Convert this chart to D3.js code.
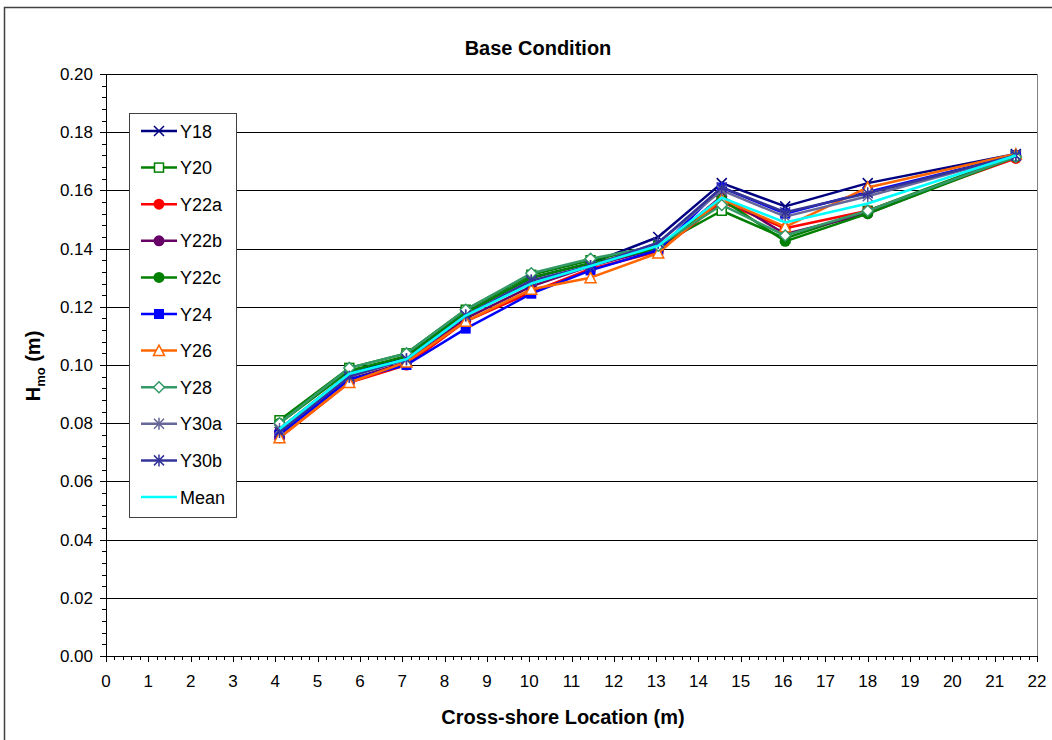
<!DOCTYPE html>
<html><head><meta charset="utf-8">
<script src="https://cdn.jsdelivr.net/npm/d3@7"></script>
<style>body{margin:0;background:#fff;}svg{display:block;font-family:Arial,"Liberation Sans",sans-serif;}</style>
</head><body>
<svg id="c" width="1052" height="740"></svg>
<script>
const xLocations = [4.1, 5.75, 7.1, 8.5, 10.05, 11.45, 13.05, 14.55, 16.05, 18.0, 21.5];
const seriesNames = ["Y18","Y20","Y22a","Y22b","Y22c","Y24","Y26","Y28","Y30a","Y30b","Mean"];
const Y18  = [0.078,0.097,0.103,0.118,0.130,0.135,0.144,0.1625,0.1545,0.1625,0.1725];
const Y20  = [0.081,0.099,0.104,0.119,0.131,0.136,0.141,0.153,0.1435,0.153,0.172];
const Y22a = [0.075,0.094,0.100,0.115,0.125,0.133,0.139,0.156,0.147,0.153,0.171];
const Y22b = [0.077,0.095,0.101,0.116,0.127,0.134,0.140,0.158,0.145,0.152,0.172];
const Y22c = [0.080,0.098,0.103,0.118,0.130,0.135,0.140,0.157,0.1425,0.152,0.1715];
const Y24  = [0.076,0.095,0.100,0.1125,0.1245,0.1325,0.1395,0.161,0.152,0.1595,0.172];
const Y26  = [0.075,0.094,0.101,0.115,0.126,0.130,0.1385,0.157,0.1475,0.161,0.1725];
const Y28  = [0.080,0.099,0.104,0.119,0.1315,0.1365,0.141,0.155,0.1445,0.153,0.1715];
const Y30a = [0.078,0.096,0.102,0.117,0.129,0.134,0.142,0.160,0.151,0.158,0.172];
const Y30b = [0.077,0.096,0.102,0.117,0.129,0.134,0.142,0.161,0.1525,0.159,0.172];
const Mean = [0.078,0.097,0.102,0.117,0.128,0.134,0.141,0.1575,0.149,0.1555,0.172];
const seriesValues = [Y18,Y20,Y22a,Y22b,Y22c,Y24,Y26,Y28,Y30a,Y30b,Mean];
const xTickValues = d3.range(0, 23, 1);
const yTickValues = d3.range(0, 0.2001, 0.02);

const colors = ["#000080","#008000","#FF0000","#660066","#008000","#0000FF","#FF6600","#339966","#666699","#333399","#00FFFF"];
const markers = ["x","squareOpen","circle","circle","circle","square","triOpen","diamondOpen","star","star","none"];

const svg = d3.select("#c");
const L = 106, R = 1037, T = 74, B = 656;
const x = d3.scaleLinear().domain([0,22]).range([L,R]);
const y = d3.scaleLinear().domain([0,0.2]).range([B,T]);

// chart area border
svg.append("rect").attr("x",4.5).attr("y",7.5).attr("width",1100).attr("height",800)
  .attr("fill","none").attr("stroke","#404040").attr("stroke-width",1.5);

// gridlines
svg.append("g").selectAll("line").data(yTickValues.slice(1)).join("line")
  .attr("x1",L).attr("x2",R).attr("y1",d=>Math.round(y(d))+0.5).attr("y2",d=>Math.round(y(d))+0.5)
  .attr("stroke","#000").attr("stroke-width",1);
// right border
svg.append("line").attr("x1",R+0.5).attr("x2",R+0.5).attr("y1",T).attr("y2",B).attr("stroke","#808080");

// axes
const yMinor = d3.range(0, 0.2001, 0.004);
const ga = svg.append("g").attr("stroke","#000");
ga.selectAll(".ym").data(yMinor).join("line")
  .attr("x1",L-4).attr("x2",L).attr("y1",d=>Math.round(y(d))+0.5).attr("y2",d=>Math.round(y(d))+0.5);
ga.selectAll(".yM").data(yTickValues).join("line")
  .attr("x1",L-6).attr("x2",L).attr("y1",d=>Math.round(y(d))+0.5).attr("y2",d=>Math.round(y(d))+0.5);
const xMinor = d3.range(0, 22.001, 0.2);
ga.selectAll(".xm").data(xMinor).join("line")
  .attr("y1",B).attr("y2",B+4).attr("x1",d=>Math.round(x(d))+0.5).attr("x2",d=>Math.round(x(d))+0.5);
ga.selectAll(".xM").data(xTickValues).join("line")
  .attr("y1",B).attr("y2",B+6).attr("x1",d=>Math.round(x(d))+0.5).attr("x2",d=>Math.round(x(d))+0.5);
ga.append("line").attr("x1",L+0.5).attr("x2",L+0.5).attr("y1",T).attr("y2",B);
ga.append("line").attr("x1",L).attr("x2",R).attr("y1",B+0.5).attr("y2",B+0.5);

svg.append("g").selectAll("text").data(yTickValues).join("text")
  .attr("x",L-13).attr("y",d=>y(d)+6).attr("text-anchor","end").attr("font-size",17)
  .text(d=>d3.format(".2f")(d));
svg.append("g").selectAll("text").data(xTickValues).join("text")
  .attr("x",d=>x(d)).attr("y",B+31).attr("text-anchor","middle").attr("font-size",17)
  .text(d=>d);

// titles
svg.append("text").attr("x",538).attr("y",55).attr("text-anchor","middle")
  .attr("font-size",20).attr("font-weight","bold").text("Base Condition");
svg.append("text").attr("x",563).attr("y",724).attr("text-anchor","middle")
  .attr("font-size",20).attr("font-weight","bold").text("Cross-shore Location (m)");
const yl = svg.append("text").attr("transform","translate(40,366) rotate(-90)").attr("text-anchor","middle")
  .attr("font-size",20).attr("font-weight","bold");
yl.append("tspan").text("H");
yl.append("tspan").attr("font-size",13).attr("dy",5).text("mo");
yl.append("tspan").attr("dy",-5).text(" (m)");

function drawMarker(g, type, cx, cy, color){
  const s = 5;
  if(type==="x"){
    g.append("path").attr("d",`M${cx-s},${cy-s}L${cx+s},${cy+s}M${cx-s},${cy+s}L${cx+s},${cy-s}`)
      .attr("stroke",color).attr("stroke-width",1.5).attr("fill","none");
  } else if(type==="squareOpen"){
    g.append("rect").attr("x",cx-4.5).attr("y",cy-4.5).attr("width",9).attr("height",9)
      .attr("fill","#fff").attr("stroke",color).attr("stroke-width",1.5);
  } else if(type==="square"){
    g.append("rect").attr("x",cx-5).attr("y",cy-5).attr("width",10).attr("height",10).attr("fill",color);
  } else if(type==="circle"){
    g.append("circle").attr("cx",cx).attr("cy",cy).attr("r",5.5).attr("fill",color);
  } else if(type==="triOpen"){
    g.append("path").attr("d",`M${cx},${cy-5.5}L${cx+5.5},${cy+5}L${cx-5.5},${cy+5}Z`)
      .attr("fill","#fff").attr("stroke",color).attr("stroke-width",1.5);
  } else if(type==="diamondOpen"){
    g.append("path").attr("d",`M${cx},${cy-5.5}L${cx+5.5},${cy}L${cx},${cy+5.5}L${cx-5.5},${cy}Z`)
      .attr("fill","#fff").attr("stroke",color).attr("stroke-width",1.5);
  } else if(type==="star"){
    g.append("path").attr("d",`M${cx-s},${cy-s}L${cx+s},${cy+s}M${cx-s},${cy+s}L${cx+s},${cy-s}M${cx},${cy-s-1}L${cx},${cy+s+1}`)
      .attr("stroke",color).attr("stroke-width",1.5).attr("fill","none");
  }
}

const line = d3.line().x((d,i)=>x(xLocations[i])).y(d=>y(d));
seriesValues.forEach((vals,k)=>{
  const g = svg.append("g");
  g.append("path").attr("d",line(vals)).attr("fill","none").attr("stroke",colors[k]).attr("stroke-width",2.5)
    .attr("stroke-linejoin","round");
  vals.forEach((v,i)=>drawMarker(g, markers[k], x(xLocations[i]), y(v), colors[k]));
});

// legend
const lg = svg.append("g");
lg.append("rect").attr("x",129.5).attr("y",113.5).attr("width",107).attr("height",404)
  .attr("fill","#fff").attr("stroke","#404040").attr("stroke-width",1);
seriesNames.forEach((n,k)=>{
  const cy = 131 + k*36.6;
  lg.append("line").attr("x1",141).attr("x2",177).attr("y1",cy).attr("y2",cy)
    .attr("stroke",colors[k]).attr("stroke-width",2.5);
  drawMarker(lg, markers[k], 159, cy, colors[k]);
  lg.append("text").attr("x",180).attr("y",cy+6.5).attr("font-size",18).text(n);
});
</script>
</body></html>
